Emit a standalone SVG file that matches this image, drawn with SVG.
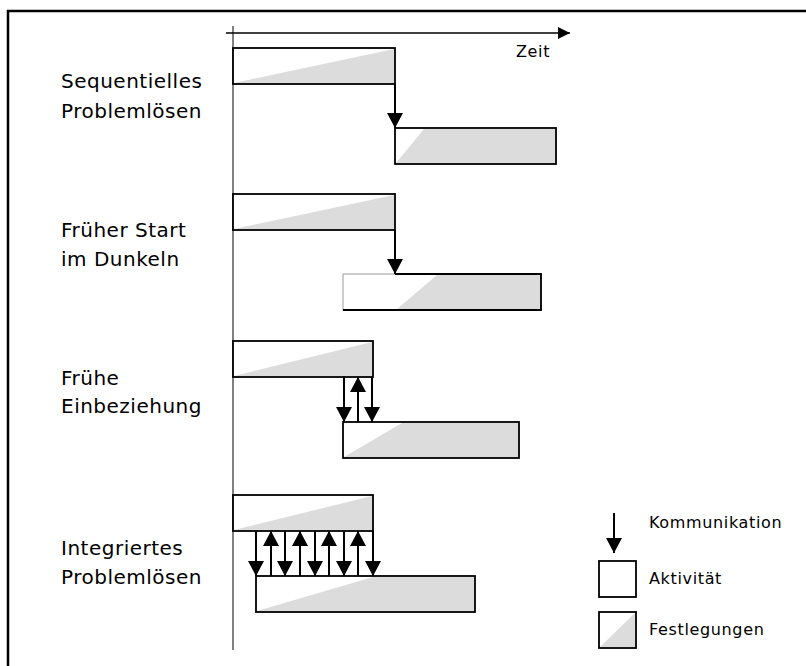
<svg xmlns="http://www.w3.org/2000/svg" width="806" height="666" viewBox="0 0 806 666">
  <defs>
    <style>
      .frame { fill: none; stroke: #000; stroke-width: 2.5; }
      .axis-y { fill: none; stroke: #808080; stroke-width: 2; }
      .axis-x { fill: none; stroke: #000; stroke-width: 1.5; }
      .bar { fill: #fff; stroke: #000; stroke-width: 1.8; }
      .fill { fill: #dcdcdc; stroke: none; }
      .comm { fill: none; stroke: #000; stroke-width: 2; }
      .label { font-family: "DejaVu Sans", "Liberation Sans", sans-serif; font-size: 20px; letter-spacing: 0.5px; fill: #000; }
      .legend { font-family: "DejaVu Sans", "Liberation Sans", sans-serif; font-size: 16px; letter-spacing: 0.65px; fill: #000; }
    </style>
    <marker id="head" viewBox="0 0 15 16" refX="15" refY="8" markerWidth="15" markerHeight="16" markerUnits="userSpaceOnUse" orient="auto">
      <path d="M0,0 L15,8 L0,16 Z" fill="#000"/>
    </marker>
    <marker id="axisHead" viewBox="0 0 12 12" refX="12" refY="6" markerWidth="12" markerHeight="12" markerUnits="userSpaceOnUse" orient="auto">
      <path d="M0,0 L12,6 L0,12 Z" fill="#000"/>
    </marker>
  </defs>

  <!-- outer frame (open towards right and bottom) -->
  <path class="frame" d="M8,666 L8,11 L806,11"/>

  <!-- time axes -->
  <g id="axes">
    <line class="axis-y" x1="233" y1="26" x2="233" y2="650"/>
    <line class="axis-x" x1="226" y1="33" x2="570" y2="33" marker-end="url(#axisHead)"/>
    <text class="legend" x="516" y="57">Zeit</text>
  </g>

  <!-- row 1: Sequentielles Problemlösen -->
  <g id="row-sequentiell">
    <text class="label" x="61" y="88">Sequentielles</text>
    <text class="label" x="61" y="118">Problemlösen</text>
    <rect class="bar" x="233" y="48" width="162" height="36"/>
    <polygon class="fill" points="234,83 394,49 394,83"/>
    <rect class="bar" x="395" y="128" width="161" height="36"/>
    <polygon class="fill" points="424,129 555,129 555,163 396,163"/>
  </g>

  <!-- row 2: Früher Start im Dunkeln -->
  <g id="row-frueh-start">
    <text class="label" x="61" y="237">Früher Start</text>
    <text class="label" x="61" y="266">im Dunkeln</text>
    <rect class="bar" x="233" y="194" width="162" height="36"/>
    <polygon class="fill" points="234,229 394,195 394,229"/>
    <rect x="343" y="274" width="198" height="36" fill="#fff" stroke="#999" stroke-width="1"/>
    <polygon class="fill" points="437,275 540,275 540,309 397,309"/>
    <path d="M395,274 L541,274 L541,310 L343,310" fill="none" stroke="#000" stroke-width="1.8"/>
  </g>

  <!-- row 3: Frühe Einbeziehung -->
  <g id="row-frueh-einbeziehung">
    <text class="label" x="61" y="385">Frühe</text>
    <text class="label" x="61" y="413">Einbeziehung</text>
    <rect class="bar" x="233" y="341" width="140" height="36"/>
    <polygon class="fill" points="234,376 372,342 372,376"/>
    <rect class="bar" x="343" y="422" width="176" height="36"/>
    <polygon class="fill" points="344,457 402,423 518,423 518,457"/>
  </g>

  <!-- row 4: Integriertes Problemlösen -->
  <g id="row-integriert">
    <text class="label" x="61" y="555">Integriertes</text>
    <text class="label" x="61" y="584">Problemlösen</text>
    <rect class="bar" x="233" y="495" width="140" height="36"/>
    <polygon class="fill" points="234,530 372,496 372,530"/>
    <rect class="bar" x="256" y="576" width="219" height="36"/>
    <polygon class="fill" points="257,611 373,577 474,577 474,611"/>
  </g>

  <!-- communication arrows -->
  <g id="connectors">
    <line class="comm" x1="395" y1="84" x2="395" y2="128" marker-end="url(#head)"/>
    <line class="comm" x1="395" y1="230" x2="395" y2="274" marker-end="url(#head)"/>

    <line class="comm" x1="344" y1="377" x2="344" y2="422" marker-end="url(#head)"/>
    <line class="comm" x1="358" y1="422" x2="358" y2="377" marker-end="url(#head)"/>
    <line class="comm" x1="372" y1="377" x2="372" y2="422" marker-end="url(#head)"/>

    <line class="comm" x1="256" y1="531" x2="256" y2="576" marker-end="url(#head)"/>
    <line class="comm" x1="271" y1="576" x2="271" y2="531" marker-end="url(#head)"/>
    <line class="comm" x1="285" y1="531" x2="285" y2="576" marker-end="url(#head)"/>
    <line class="comm" x1="300" y1="576" x2="300" y2="531" marker-end="url(#head)"/>
    <line class="comm" x1="315" y1="531" x2="315" y2="576" marker-end="url(#head)"/>
    <line class="comm" x1="329" y1="576" x2="329" y2="531" marker-end="url(#head)"/>
    <line class="comm" x1="344" y1="531" x2="344" y2="576" marker-end="url(#head)"/>
    <line class="comm" x1="358" y1="576" x2="358" y2="531" marker-end="url(#head)"/>
    <line class="comm" x1="373" y1="531" x2="373" y2="576" marker-end="url(#head)"/>
  </g>

  <!-- legend -->
  <g id="legend">
    <line class="comm" x1="614" y1="513" x2="614" y2="553" marker-end="url(#head)"/>
    <text class="legend" x="649" y="528">Kommunikation</text>
    <rect class="bar" x="599" y="561" width="37" height="36"/>
    <text class="legend" x="649" y="584">Aktivität</text>
    <rect class="bar" x="599" y="612" width="37" height="36"/>
    <polygon class="fill" points="600,647 635,613 635,647"/>
    <text class="legend" x="649" y="635">Festlegungen</text>
  </g>
</svg>
